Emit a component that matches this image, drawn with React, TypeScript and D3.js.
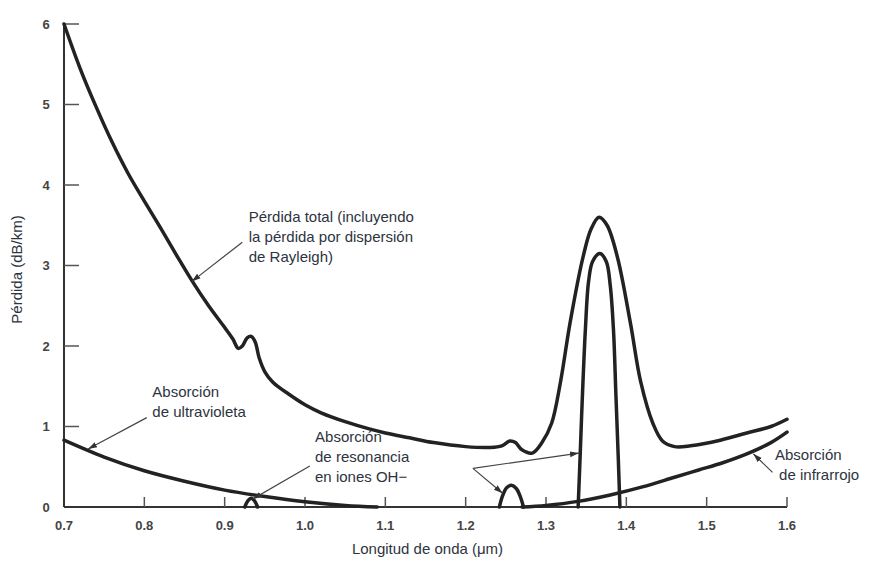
import React from "react";
import * as d3 from "d3";

// wavelength (um) / loss (dB/km)
const totalLoss: [number, number][] = [
  [0.7, 6.0], [0.72, 5.45], [0.74, 4.97], [0.76, 4.53], [0.78, 4.14], [0.8, 3.8],
  [0.82, 3.47], [0.84, 3.13], [0.86, 2.8], [0.88, 2.5], [0.9, 2.23], [0.91, 2.09],
  [0.917, 1.97], [0.922, 2.0], [0.928, 2.1], [0.933, 2.12], [0.938, 2.05], [0.943, 1.85],
  [0.95, 1.68], [0.96, 1.55], [0.98, 1.4], [1.0, 1.27], [1.02, 1.17], [1.05, 1.06],
  [1.08, 0.97], [1.1, 0.92], [1.13, 0.86], [1.16, 0.8], [1.2, 0.75], [1.23, 0.74],
  [1.245, 0.76], [1.255, 0.82], [1.262, 0.8], [1.27, 0.71], [1.283, 0.67], [1.295, 0.8],
  [1.307, 1.04], [1.318, 1.55], [1.33, 2.29], [1.346, 3.1], [1.356, 3.45], [1.366, 3.6],
  [1.376, 3.5], [1.389, 3.1], [1.405, 2.29], [1.418, 1.55], [1.433, 1.04], [1.445, 0.82],
  [1.46, 0.75], [1.48, 0.76], [1.517, 0.83], [1.55, 0.92], [1.58, 1.0], [1.6, 1.09],
];

const ohPeak: [number, number][] = [
  [1.34, 0.0], [1.342, 0.5], [1.345, 1.3], [1.349, 2.2], [1.353, 2.8], [1.358, 3.05],
  [1.367, 3.15], [1.375, 3.05], [1.38, 2.75], [1.384, 2.2], [1.387, 1.4], [1.39, 0.6],
  [1.392, 0.0],
];

const ohBump125: [number, number][] = [
  [1.242, 0.0], [1.246, 0.14], [1.251, 0.24], [1.257, 0.27], [1.263, 0.23], [1.268, 0.13],
  [1.272, 0.0],
];

const ohBump093: [number, number][] = [
  [0.925, 0.0], [0.929, 0.08], [0.933, 0.11], [0.937, 0.08], [0.941, 0.0],
];

const uvAbsorption: [number, number][] = [
  [0.7, 0.83], [0.75, 0.62], [0.8, 0.45], [0.85, 0.32], [0.9, 0.21], [0.95, 0.13],
  [1.0, 0.065], [1.05, 0.02], [1.09, 0.0],
];

const irAbsorption: [number, number][] = [
  [1.27, 0.0], [1.3, 0.02], [1.34, 0.07], [1.38, 0.15], [1.42, 0.25], [1.46, 0.37],
  [1.49, 0.46], [1.52, 0.55], [1.55, 0.66], [1.58, 0.8], [1.6, 0.93],
];

const xTicks = [0.7, 0.8, 0.9, 1.0, 1.1, 1.2, 1.3, 1.4, 1.5, 1.6];
const yTicks = [0, 1, 2, 3, 4, 5, 6];

const curves = [totalLoss, ohPeak, ohBump125, ohBump093, uvAbsorption, irAbsorption];

// annotation arrows: [tail, head] in data units
const arrows: [[number, number], [number, number]][] = [
  [[0.922, 3.29], [0.859, 2.8]],
  [[0.803, 1.11], [0.73, 0.72]],
  [[1.006, 0.51], [0.935, 0.1]],
  [[1.209, 0.48], [1.341, 0.67]],
  [[1.209, 0.48], [1.246, 0.17]],
  [[1.582, 0.43], [1.558, 0.66]],
];

const notes: { at: [number, number]; lines: string[] }[] = [
  { at: [0.93, 3.54], lines: ["Pérdida total (incluyendo", "la pérdida por dispersión", "de Rayleigh)"] },
  { at: [0.81, 1.37], lines: ["Absorción", "de ultravioleta"] },
  { at: [1.0125, 0.81], lines: ["Absorción", "de resonancia", "en iones OH\u2212"] },
  { at: [1.585, 0.58], lines: ["Absorción", " de infrarrojo"] },
];

export default function App() {
  const width = 879;
  const height = 563;
  const x = d3.scaleLinear().domain([0.7, 1.6]).range([64, 787]);
  const y = d3.scaleLinear().domain([0, 6]).range([507, 24]);

  const line = d3
    .line<[number, number]>()
    .x((d) => x(d[0]))
    .y((d) => y(d[1]))
    .curve(d3.curveCatmullRom.alpha(0.5));

  const font = "'Liberation Sans', Arial, sans-serif";
  const textColor = "#2d3440";

  return (
    <svg width={width} height={height} style={{ display: "block", position: "absolute", left: 0, top: 0, background: "#fff" }}>
      <defs>
        <marker id="head" viewBox="0 0 10 10" refX="10" refY="5" markerWidth="9" markerHeight="9" markerUnits="userSpaceOnUse" orient="auto">
          <path d="M0,1.8 L10,5 L0,8.2 Z" fill="#333" />
        </marker>
      </defs>

      {/* axes */}
      <line x1={x(0.7)} x2={x(0.7)} y1={y(0)} y2={y(6)} stroke="#333" strokeWidth={2} />
      <line x1={x(0.7)} x2={x(1.6)} y1={y(0)} y2={y(0)} stroke="#333" strokeWidth={2} />
      {yTicks.map((t) => (
        <g key={"y" + t}>
          {t > 0 && <line x1={x(0.7)} x2={x(0.7) + 15} y1={y(t)} y2={y(t)} stroke="#555" strokeWidth={1.5} />}
          <text x={46} y={y(t)} dy="0.36em" textAnchor="middle" fontFamily={font} fontWeight="bold" fontSize={13} fill="#444">
            {t}
          </text>
        </g>
      ))}
      {xTicks.map((t) => (
        <g key={"x" + t}>
          {t > 0.7 && <line x1={x(t)} x2={x(t)} y1={y(0)} y2={y(0) - 10} stroke="#555" strokeWidth={1.5} />}
          <text x={x(t)} y={y(0) + 23} textAnchor="middle" fontFamily={font} fontWeight="bold" fontSize={13} fill="#444">
            {t.toFixed(1)}
          </text>
        </g>
      ))}
      <text x={(x(0.7) + x(1.6)) / 2 + 2} y={y(0) + 47} textAnchor="middle" fontFamily={font} fontSize={15} fill={textColor}>
        Longitud de onda (μm)
      </text>
      <text transform={`translate(22,${(y(0) + y(6)) / 2 + 4}) rotate(-90)`} textAnchor="middle" fontFamily={font} fontSize={15} fill={textColor}>
        Pérdida (dB/km)
      </text>

      {/* curves */}
      {curves.map((c, i) => (
        <path key={i} d={line(c) || ""} fill="none" stroke="#222" strokeWidth={3.5} strokeLinejoin="round" strokeLinecap="round" />
      ))}

      {/* annotations */}
      {arrows.map(([a, b], i) => (
        <line key={"a" + i} x1={x(a[0])} y1={y(a[1])} x2={x(b[0])} y2={y(b[1])} stroke="#444" strokeWidth={1.2} markerEnd="url(#head)" />
      ))}
      {notes.map((n, i) => (
        <text key={"n" + i} x={x(n.at[0])} y={y(n.at[1])} fontFamily={font} fontSize={15} fill={textColor}>
          {n.lines.map((l, j) => (
            <tspan key={j} x={x(n.at[0])} dy={j === 0 ? 0 : 20} style={{ whiteSpace: "pre" }}>
              {l}
            </tspan>
          ))}
        </text>
      ))}
    </svg>
  );
}
